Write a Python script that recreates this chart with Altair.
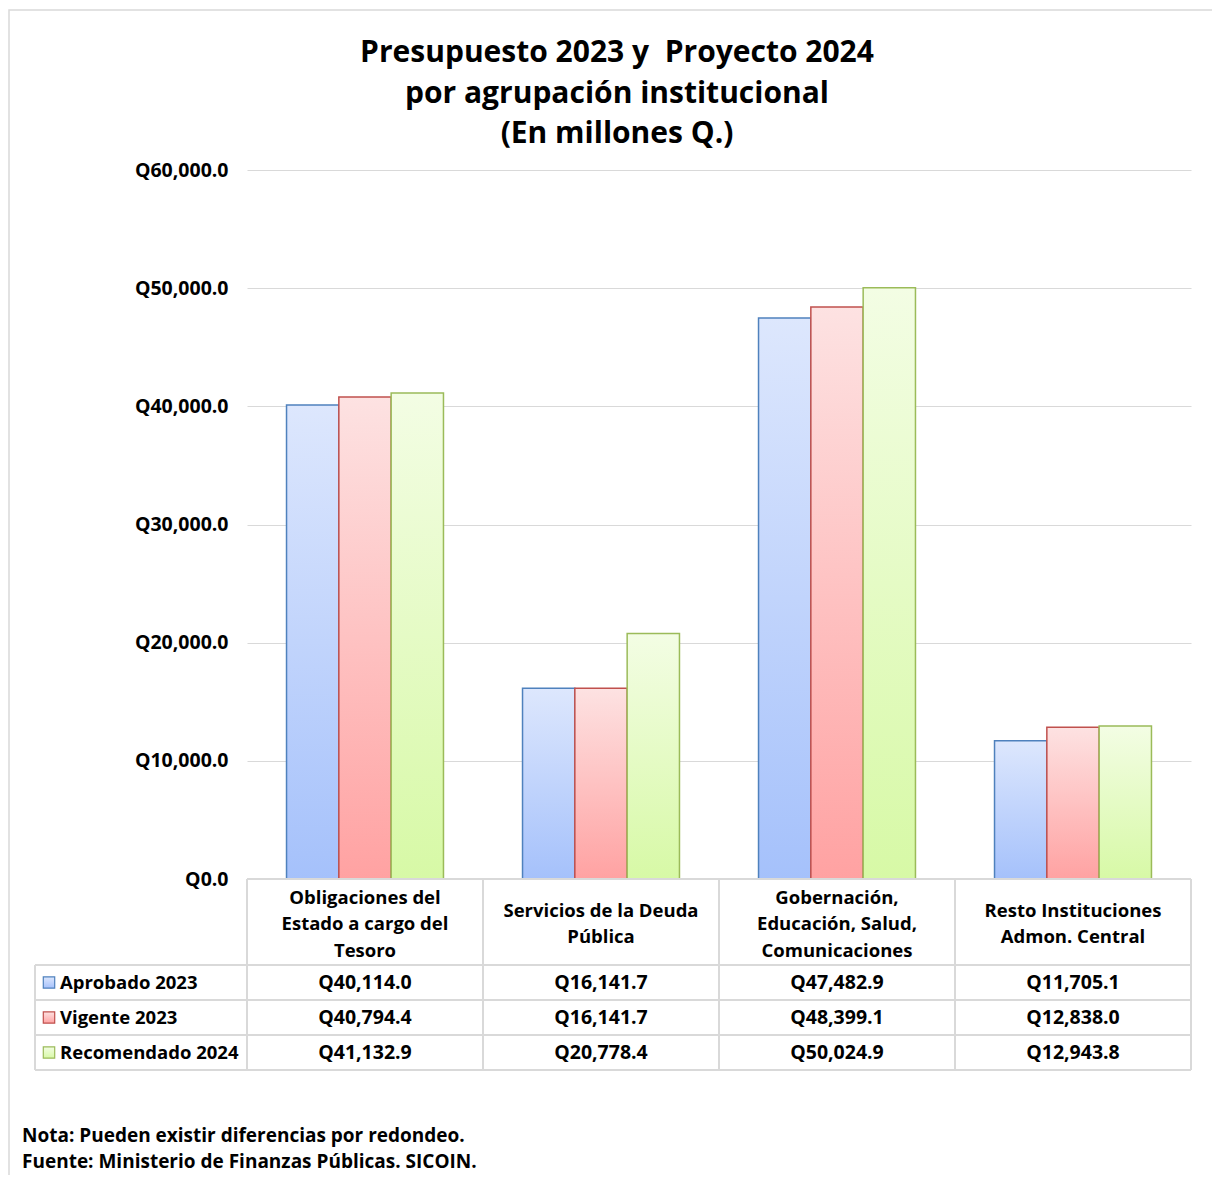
import altair as alt
import pandas as pd

# ---------------- data ----------------
categories = [
    "Obligaciones del\nEstado a cargo del\nTesoro",
    "Servicios de la Deuda\nPública",
    "Gobernación,\nEducación, Salud,\nComunicaciones",
    "Resto Instituciones\nAdmon. Central",
]
series = ["Aprobado 2023", "Vigente 2023", "Recomendado 2024"]
aprobado_2023 = [40114.0, 16141.7, 47482.9, 11705.1]
vigente_2023 = [40794.4, 16141.7, 48399.1, 12838.0]
recomendado_2024 = [41132.9, 20778.4, 50024.9, 12943.8]
y_ticks = [0, 10000, 20000, 30000, 40000, 50000, 60000]

title_text = "Presupuesto 2023 y \u00a0Proyecto 2024\npor agrupación institucional\n(En millones Q.)"
note_lines = ["Nota: Pueden existir diferencias por redondeo.",
              "Fuente: Ministerio de Finanzas Públicas. SICOIN."]

values_by_series = [aprobado_2023, vigente_2023, recomendado_2024]
rows = []
for s, vals in zip(series, values_by_series):
    for c, v in zip(categories, vals):
        rows.append({"category": c, "series": s, "value": v})
df = pd.DataFrame(rows)

# ---------------- styling ----------------
FONT = "Open Sans"
FS_NUM = 19.5
FS_TXT = 18.5
W, H = 944, 709
styles = {
    "Aprobado 2023": ("#4f81bd", "#dde7fd", "#a5c1fb"),
    "Vigente 2023": ("#c0504d", "#fde2e2", "#ffa2a2"),
    "Recomendado 2024": ("#9bbb59", "#f3fde4", "#d7f9a6"),
}


def grad(top, bottom):
    return {"gradient": "linear", "x1": 0, "x2": 0, "y1": 0, "y2": 1,
            "stops": [{"offset": 0, "color": top}, {"offset": 1, "color": bottom}]}


one = pd.DataFrame({"k": [0]})

x_enc = alt.X("category:N", sort=categories,
              scale=alt.Scale(domain=categories, paddingInner=0.335, paddingOuter=0.1675),
              axis=None, title=None)
y_enc = alt.Y("value:Q", scale=alt.Scale(domain=[0, 60000], nice=False),
              axis=alt.Axis(values=y_ticks, labelExpr="'Q' + format(datum.value, ',.1f')",
                            title=None, domain=False, ticks=False, grid=True,
                            gridColor="#d9d9d9", gridWidth=1.2,
                            labelFont=FONT, labelFontWeight="bold", labelFontSize=FS_NUM,
                            labelColor="#000000", labelPadding=19))

layers = []

# outer border
layers.append(alt.Chart(one).mark_rect(fill=None, stroke="#d9d9d9", strokeWidth=1.5).encode(
    x=alt.value(-238), x2=alt.value(967), y=alt.value(-160), y2=alt.value(1040)))

# title (first line centre, then line height)
layers.append(alt.Chart(one).mark_text(
    text=title_text, lineBreak="\n", lineHeight=40.5, font=FONT, fontWeight="bold",
    fontSize=30, align="center", baseline="middle", color="#000000").encode(
    x=alt.value(370), y=alt.value(-117)))

# bars
for s in series:
    stroke, top, bottom = styles[s]
    layers.append(alt.Chart(df).transform_filter(alt.datum.series == s).mark_bar(
        fill=grad(top, bottom), stroke=stroke, strokeWidth=1.5).encode(
        x=x_enc,
        xOffset=alt.XOffset("series:N", sort=series,
                            scale=alt.Scale(domain=series, paddingInner=0, paddingOuter=0)),
        y=y_enc,
    ))

# table grid lines (layout)
L = -212
step = W / 4
row_tops = [795, 830, 865, 900]
grid_rows = [{"x": 0, "x2": W, "y": H, "y2": H}]
for ry in row_tops:
    grid_rows.append({"x": L, "x2": W, "y": ry, "y2": ry})
grid_rows.append({"x": L, "x2": L, "y": row_tops[0], "y2": row_tops[-1]})
for i in range(5):
    grid_rows.append({"x": i * step, "x2": i * step, "y": H, "y2": row_tops[-1]})
grid_df = pd.DataFrame(grid_rows)
layers.append(alt.Chart(grid_df).mark_rule(color="#d9d9d9", strokeWidth=2).encode(
    x=alt.X("x:Q", scale=None, axis=None), x2="x2:Q",
    y=alt.Y("y:Q", scale=None, axis=None), y2="y2:Q"))

# category header text (vertically centred in the header cell)
LH = 26.5
header_mid = (H + row_tops[0]) / 2 + 2
by_lines = {}
for c in categories:
    by_lines.setdefault(c.count("\n") + 1, []).append(c)
for n, cats in by_lines.items():
    layers.append(alt.Chart(pd.DataFrame({"category": cats})).mark_text(
        lineBreak="\n", lineHeight=LH, font=FONT, fontWeight="bold", fontSize=FS_TXT,
        align="center", baseline="middle", color="#000000").encode(
        x=x_enc, y=alt.value(header_mid - (n - 1) * LH / 2), text="category:N"))

# table values, legend keys and row labels
for i, s in enumerate(series):
    stroke, top, bottom = styles[s]
    ry = (row_tops[i] + row_tops[i + 1]) / 2
    layers.append(alt.Chart(df).transform_filter(alt.datum.series == s).transform_calculate(
        label="'Q' + format(datum.value, ',.1f')").mark_text(
        font=FONT, fontWeight="bold", fontSize=FS_NUM, align="center", baseline="middle",
        color="#000000").encode(x=x_enc, y=alt.value(ry), text="label:N"))
    key_df = pd.DataFrame({"series": [s]})
    layers.append(alt.Chart(key_df).mark_square(
        fill=grad(top, bottom), stroke=stroke, strokeWidth=1.2, size=130, opacity=1).encode(
        x=alt.value(-198), y=alt.value(ry)))
    layers.append(alt.Chart(key_df).mark_text(
        font=FONT, fontWeight="bold", fontSize=FS_TXT, align="left", baseline="middle",
        color="#000000").encode(x=alt.value(-187), y=alt.value(ry), text="series:N"))

# notes
for j, line in enumerate(note_lines):
    layers.append(alt.Chart(one).mark_text(
        text=line, font=FONT, fontWeight="bold", fontSize=19, align="left",
        baseline="middle", color="#000000").encode(
        x=alt.value(-225), y=alt.value(966 + 26 * j)))

chart = alt.layer(*layers).properties(
    width=W, height=H,
    autosize=alt.AutoSizeParams(type="none"),
    padding={"left": 239, "top": 162, "right": 21, "bottom": 296},
    background="white",
).configure_view(stroke=None)

chart.save("out.html", embed_options={"renderer": "svg", "actions": False})
